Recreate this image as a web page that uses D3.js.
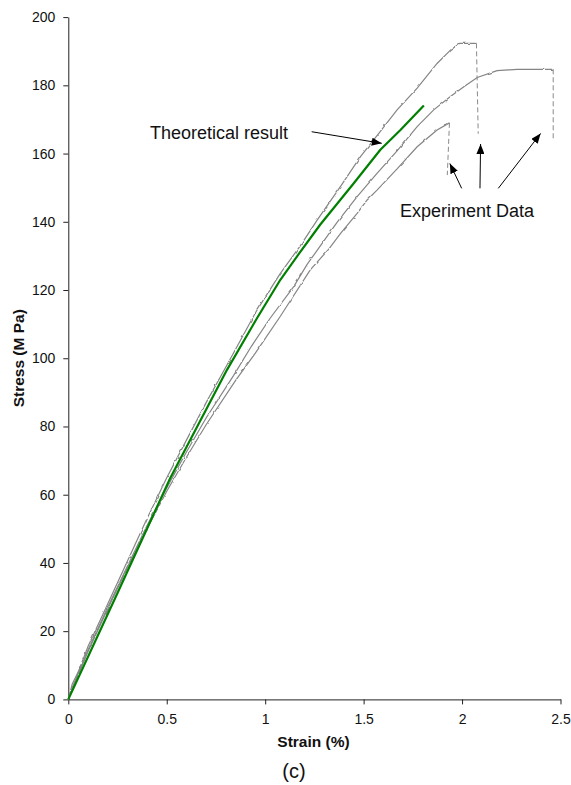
<!DOCTYPE html>
<html>
<head>
<meta charset="utf-8">
<script src="https://cdn.jsdelivr.net/npm/d3@7"></script>
<style>
  body { margin: 0; background: #fff; }
  svg { display: block; font-family: Arial, "Liberation Sans", sans-serif; }
</style>
</head>
<body>
<div id="chart"></div>
<script>
// tick labels
const xTicks = [0, 0.5, 1, 1.5, 2, 2.5];
const yTicks = [0, 20, 40, 60, 80, 100, 120, 140, 160, 180, 200];

// [strain %, stress MPa]
const theory = [[0,0],[0.25,31.2],[0.518,64.9],[0.806,96.6],[0.959,111.8],[1.077,123],
  [1.17,130.5],[1.28,139.2],[1.45,151.3],[1.585,161.1],[1.687,166.9],[1.806,174.1]];

const expA = [[0,0],[0.02,4.5],[0.05,8],[0.1,15.5],[0.2,28],[0.3,40.5],[0.4,53],[0.5,65],
  [0.6,76],[0.7,87],[0.806,98],[0.959,114.2],[1.077,124.9],[1.179,133],[1.264,140.5],
  [1.382,150.3],[1.484,159.1],[1.585,166.5],[1.67,172.8],[1.772,179.2],[1.873,186.4],
  [1.941,190.3],[1.988,192.3],[2.073,192.3]];
const expB = [[0,0],[0.02,3.5],[0.1,14.5],[0.2,27],[0.3,39],[0.4,51],[0.5,62],[0.6,72.5],
  [0.7,82.5],[0.84,95],[0.93,103.5],[1.026,111.8],[1.145,121],[1.213,127.5],[1.272,132.3],
  [1.365,139.8],[1.467,147.4],[1.568,154.2],[1.67,160.8],[1.772,167.9],[1.856,172.8],
  [1.941,176.7],[2.009,179.6],[2.077,182.3],[2.178,184.3],[2.28,184.7],[2.463,184.7]];
const expC = [[0,0],[0.02,3],[0.1,14],[0.2,26.5],[0.3,38.5],[0.4,50],[0.5,61],[0.6,71],
  [0.7,80.5],[0.85,93.5],[0.95,101.5],[1.077,112.3],[1.229,125.9],[1.323,132],[1.382,136.5],
  [1.467,142.5],[1.518,146.4],[1.568,149.3],[1.67,155.5],[1.772,162],[1.873,166.9],[1.936,169]];

// failure drops (drawn dashed)
const dropA = [[2.073,192.3],[2.082,165.8]];
const dropB = [[2.463,184.7],[2.463,163.9]];
const dropC = [[1.936,169],[1.925,153.7]];

// annotation arrows in data units: [from, to]
const theoryArrow = [[1.236,166.4],[1.592,163.0]];
const expArrows = [
  [[1.998,149.8],[1.938,157.1]],
  [[2.091,149.8],[2.094,162.8]],
  [[2.184,149.8],[2.399,165.9]]
];

const width = 571, height = 785;

const x = d3.scaleLinear().domain([0, 2.5]).range([68.3, 560.5]);
const y = d3.scaleLinear().domain([0, 200]).range([699.4, 17.1]);

const svg = d3.select("#chart").append("svg")
  .attr("width", width)
  .attr("height", height);

const defs = svg.append("defs");

defs.append("marker")
  .attr("id", "head")
  .attr("markerUnits", "userSpaceOnUse")
  .attr("markerWidth", 11)
  .attr("markerHeight", 8)
  .attr("refX", 10)
  .attr("refY", 4)
  .attr("orient", "auto")
  .append("path")
  .attr("d", "M0,0 L10,4 L0,8 Z")
  .attr("fill", "#000");

// gives the measured curves their ragged look
const rough = defs.append("filter")
  .attr("id", "rough")
  .attr("x", "-5%").attr("y", "-5%")
  .attr("width", "110%").attr("height", "110%");
rough.append("feTurbulence")
  .attr("type", "fractalNoise")
  .attr("baseFrequency", 0.18)
  .attr("numOctaves", 1)
  .attr("seed", 3)
  .attr("result", "noise");
rough.append("feDisplacementMap")
  .attr("in", "SourceGraphic")
  .attr("in2", "noise")
  .attr("scale", 2.6)
  .attr("xChannelSelector", "R")
  .attr("yChannelSelector", "G");

// axes
const yAxis = d3.axisLeft(y).tickValues(yTicks).tickSize(5).tickSizeOuter(0).tickPadding(8);
const xAxis = d3.axisBottom(x).tickValues(xTicks).tickSize(5).tickSizeOuter(0).tickPadding(10)
  .tickFormat(d => String(d));

const gy = svg.append("g").attr("transform", `translate(${x(0)},0)`).call(yAxis);
const gx = svg.append("g").attr("transform", `translate(0,${y(0)})`).call(xAxis);

[gx, gy].forEach(g => {
  g.select(".domain").attr("stroke", "#222");
  g.selectAll(".tick line").attr("stroke", "#222");
  g.selectAll(".tick text").attr("font-size", 14).attr("fill", "#111")
    .attr("font-family", "Arial, 'Liberation Sans', sans-serif");
});

const line = d3.line().x(d => x(d[0])).y(d => y(d[1]));

// experiment curves
const expG = svg.append("g").attr("filter", "url(#rough)");
[expA, expB, expC].forEach(d => {
  expG.append("path").datum(d)
    .attr("d", line)
    .attr("fill", "none")
    .attr("stroke", "#858585")
    .attr("stroke-width", 1.2);
});

[dropA, dropB, dropC].forEach(d => {
  svg.append("path").datum(d)
    .attr("d", line)
    .attr("fill", "none")
    .attr("stroke", "#8a8a8a")
    .attr("stroke-width", 1)
    .attr("stroke-dasharray", "5,3");
});

// theoretical curve
svg.append("path").datum(theory)
  .attr("d", line)
  .attr("fill", "none")
  .attr("stroke", "#008000")
  .attr("stroke-width", 2.2)
  .attr("stroke-linejoin", "round");

// annotations
[theoryArrow, ...expArrows].forEach(a => {
  svg.append("line")
    .attr("x1", x(a[0][0])).attr("y1", y(a[0][1]))
    .attr("x2", x(a[1][0])).attr("y2", y(a[1][1]))
    .attr("stroke", "#000")
    .attr("stroke-width", 1)
    .attr("marker-end", "url(#head)");
});

svg.append("text")
  .attr("x", x(1.116)).attr("y", y(164.2))
  .attr("text-anchor", "end")
  .attr("font-size", 18)
  .attr("fill", "#111")
  .text("Theoretical result");

svg.append("text")
  .attr("x", x(1.685)).attr("y", y(141.3))
  .attr("font-size", 18)
  .attr("fill", "#111")
  .text("Experiment Data");

// axis titles
svg.append("text")
  .attr("x", 313.5).attr("y", 747)
  .attr("text-anchor", "middle")
  .attr("font-size", 15.5)
  .attr("font-weight", "bold")
  .attr("fill", "#111")
  .text("Strain (%)");

svg.append("text")
  .attr("transform", `translate(24,${(y(0) + y(200)) / 2}) rotate(-90)`)
  .attr("text-anchor", "middle")
  .attr("font-size", 15.5)
  .attr("font-weight", "bold")
  .attr("fill", "#111")
  .text("Stress (M Pa)");

svg.append("text")
  .attr("x", 294).attr("y", 778)
  .attr("text-anchor", "middle")
  .attr("font-size", 20)
  .attr("fill", "#111")
  .text("(c)");
</script>
</body>
</html>
